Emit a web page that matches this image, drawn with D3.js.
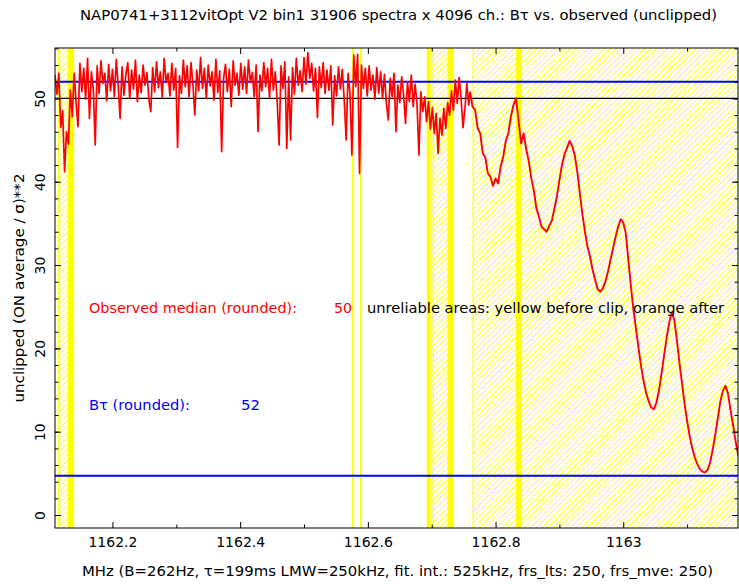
<!DOCTYPE html>
<html><head><meta charset="utf-8">
<script src="https://cdn.jsdelivr.net/npm/d3@7"></script>
<style>body{margin:0;background:#fff}svg{display:block}text{font-family:"DejaVu Sans",sans-serif}</style>
</head><body><svg id="c" width="739" height="584"></svg>
<script>
const title = "NAP0741+3112vitOpt V2 bin1 31906 spectra x 4096 ch.: B\u03c4 vs. observed (unclipped)";
const xLabel = "MHz (B=262Hz, \u03c4=199ms LMW=250kHz, fit. int.: 525kHz, frs_lts: 250, frs_mve: 250)";
const yLabel = "unclipped (ON average / \u03c3)**2";
const xTicks = [1162.2, 1162.4, 1162.6, 1162.8, 1163.0];
const xTickLabels = ["1162.2", "1162.4", "1162.6", "1162.8", "1163"];
const xMinorTicks = [1162.3, 1162.5, 1162.7, 1162.9, 1163.1];
const yTicks = [0, 10, 20, 30, 40, 50];
const yMinorTicks = [0, 2, 4, 6, 8, 10, 12, 14, 16, 18, 20, 22, 24, 26, 28, 30, 32, 34, 36, 38, 40, 42, 44, 46, 48, 50, 52, 54, 56];
const xDomain = [1162.110, 1163.1797];
const yDomain = [-1.56, 56.05];

// observed spectrum, first part (noisy channels)
const noisyStart = 1162.110, noisyStep = 0.003;
const noisyValues = [
 52.8, 50.5, 53.0, 46.5, 48.5, 41.2, 46.0, 44.5, 51.0, 47.8,
 53.0, 49.5, 46.6, 54.2, 50.8, 53.6, 49.9, 54.8, 47.6, 53.2,
 51.2, 44.4, 53.9, 50.6, 54.5, 51.8, 53.0, 49.7, 54.1, 50.9,
 53.5, 50.2, 54.7, 51.5, 47.6, 53.8, 50.4, 52.9, 54.3, 50.0,
 53.4, 51.1, 54.6, 49.6, 52.8, 50.7, 54.0, 51.6, 53.1, 49.9,
 48.4, 53.7, 50.8, 54.4, 51.3, 53.2, 50.1, 54.8, 51.9, 53.0,
 50.3, 54.2, 51.0, 53.6, 44.1, 52.7, 50.6, 54.6, 51.4, 53.9,
 50.2, 54.3, 51.7, 48.0, 53.4, 50.9, 54.9, 51.2, 53.6, 50.0,
 54.0, 51.5, 53.2, 49.8, 54.7, 50.7, 53.3, 43.6, 52.4, 54.1,
 50.8, 53.5, 49.0, 54.5, 51.6, 53.0, 50.4, 54.2, 51.1, 53.8,
 50.6, 54.6, 51.9, 53.1, 50.2, 54.0, 46.0, 52.8, 50.9, 54.3,
 51.4, 53.6, 50.1, 54.7, 51.0, 53.2, 49.6, 44.4, 53.9, 51.2,
 54.4, 44.0, 52.6, 45.0, 53.7, 50.5, 54.8, 51.6, 53.3, 50.8,
 54.9, 51.7, 55.5, 52.4, 54.2, 50.9, 53.6, 47.7, 53.8, 51.3,
 54.3, 50.6, 53.4, 51.0, 53.9, 46.8, 52.7, 50.3, 53.8, 51.1,
 53.5, 49.8, 45.0, 53.0, 50.7, 43.2, 55.2, 51.4, 55.3, 41.0,
 54.0, 51.2, 53.6, 50.3, 53.9, 51.0, 52.8, 49.9, 53.7, 50.6,
 53.2, 50.0, 52.9, 49.4, 47.4, 52.4, 50.2, 53.0, 46.0, 51.6,
 49.5, 52.6, 50.4, 47.0, 52.0, 49.6, 52.8, 49.0, 51.7, 49.3,
 43.2, 50.8, 48.4, 50.2, 47.2, 49.6, 46.3, 48.9, 45.8, 48.2,
 43.4, 47.6, 45.6, 48.8, 46.4, 49.5, 48.0, 50.9, 48.6, 52.2,
 49.4, 52.5, 50.0, 46.5, 48.7, 51.8, 49.2
];
// observed spectrum, second part (oscillating channels)
const smoothStart = 1162.760, smoothStep = 0.004;
const smoothValues = [
 50.8, 49.0, 48.6, 46.4, 45.8, 43.4, 42.9, 41.0, 40.6, 39.5,
 40.4, 39.8, 41.8, 43.0, 44.9, 45.8, 47.8, 49.2, 50.0, 47.4,
 44.6, 45.8, 43.9, 42.5, 40.4, 38.9, 36.8, 35.8, 34.6, 34.3,
 34.0, 34.7, 35.3, 36.7, 38.2, 40.2, 42.0, 43.3, 44.1, 44.9,
 44.3, 43.2, 41.2, 38.6, 36.1, 34.0, 32.2, 31.0, 29.4, 28.2,
 27.1, 26.8, 27.2, 28.0, 29.2, 30.6, 32.0, 33.4, 34.6, 35.5,
 35.1, 33.8, 30.6, 27.4, 24.6, 22.3, 20.0, 17.8, 16.0, 14.6,
 13.6, 12.9, 12.7, 13.5, 15.0, 17.0, 19.2, 21.3, 23.1, 24.3,
 23.4, 21.0, 18.3, 15.8, 13.4, 11.3, 9.5, 8.0, 6.9, 6.1,
 5.5, 5.2, 5.1, 5.4, 6.3, 7.8, 9.6, 11.6, 13.6, 14.9,
 15.5, 14.6, 12.6, 10.8, 8.8, 7.2, 6.5
];
const medianObserved = 50;
const bTauValue = 52;
const lowerLevel = 4.7;
const solidBands = [[1162.130, 1162.140], [1162.5753, 1162.5784], [1162.5878, 1162.5909],
  [1162.6922, 1162.6985], [1162.7245, 1162.7339], [1162.8320, 1162.8409]];
const hatchBands = [[1162.115, 1162.1306], [1162.7016, 1162.7245], [1162.7642, 1163.25]];

const svg = d3.select("#c");
const L = 55, R = 738, T = 48, B = 528;
const x = d3.scaleLinear().domain(xDomain).range([L, R]);
const y = d3.scaleLinear().domain(yDomain).range([B, T]);

const defs = svg.append("defs");
defs.append("clipPath").attr("id", "clip").append("rect")
  .attr("x", L).attr("y", T).attr("width", R - L).attr("height", B - T);

const plot = svg.append("g").attr("clip-path", "url(#clip)");

// hatched bands: explicit diagonal lines clipped to each band
const hs = 5.7, H = B - T;
hatchBands.forEach((d, i) => {
  const x0 = x(d[0]), x1 = Math.min(x(d[1]), R + 2);
  defs.append("clipPath").attr("id", "hc" + i).append("rect")
    .attr("x", x0).attr("y", T).attr("width", x1 - x0).attr("height", H);
  const g = plot.append("g").attr("clip-path", `url(#hc${i})`);
  const starts = d3.range(Math.floor((x0 - H) / hs), Math.ceil(x1 / hs) + 1).map(k => k * hs);
  g.selectAll("line").data(starts).join("line")
    .attr("x1", c => c).attr("y1", B).attr("x2", c => c + H).attr("y2", T)
    .attr("stroke", "#ffff00").attr("stroke-width", 1);
  plot.append("line").attr("x1", x0 + 0.5).attr("x2", x0 + 0.5).attr("y1", T).attr("y2", B)
    .attr("stroke", "#ffff00").attr("stroke-width", 1.2);
});
plot.selectAll("rect.solid").data(solidBands).join("rect").attr("class", "solid")
  .attr("x", d => x(d[0])).attr("y", T).attr("width", d => Math.max(1.5, x(d[1]) - x(d[0]))).attr("height", H)
  .attr("fill", "#ffff00");

const hl = [
  {v: bTauValue, c: "#0000ff", w: 2},
  {v: medianObserved, c: "#000000", w: 1.3},
  {v: lowerLevel, c: "#0000ff", w: 2}
];
plot.selectAll("line.h").data(hl).join("line").attr("class", "h")
  .attr("x1", L).attr("x2", R).attr("y1", d => y(d.v)).attr("y2", d => y(d.v))
  .attr("stroke", d => d.c).attr("stroke-width", d => d.w);

const line = d3.line().x(d => x(d[0])).y(d => y(d[1]));
const p1 = noisyValues.map((v, i) => [noisyStart + i * noisyStep, v]);
const p2 = smoothValues.map((v, i) => [smoothStart + i * smoothStep, v]);
plot.append("path").datum(p1.concat([p2[0]])).attr("d", line)
  .attr("fill", "none").attr("stroke", "#ff0000").attr("stroke-width", 1.7).attr("stroke-linejoin", "round");
plot.append("path").datum(p2).attr("d", line)
  .attr("fill", "none").attr("stroke", "#ff0000").attr("stroke-width", 1.9).attr("stroke-linejoin", "round");

// axes
const fmt = d3.scaleOrdinal().domain(xTicks).range(xTickLabels);
const ax = svg.append("g").attr("transform", `translate(0,${B})`)
  .call(d3.axisBottom(x).tickValues(xTicks).tickSize(-6).tickPadding(9).tickFormat(d => fmt(d)));
svg.append("g").attr("transform", `translate(0,${B})`)
  .call(d3.axisBottom(x).tickValues(xMinorTicks).tickSize(-3.5).tickFormat(""));
svg.append("g").attr("transform", `translate(0,${T})`)
  .call(d3.axisTop(x).tickValues(xTicks).tickSize(-6).tickFormat(""));
svg.append("g").attr("transform", `translate(0,${T})`)
  .call(d3.axisTop(x).tickValues(xMinorTicks).tickSize(-3.5).tickFormat(""));
const ay = svg.append("g").attr("transform", `translate(${L},0)`)
  .call(d3.axisLeft(y).tickValues(yTicks).tickSize(-6).tickFormat(d3.format("d")));
svg.append("g").attr("transform", `translate(${L},0)`)
  .call(d3.axisLeft(y).tickValues(yMinorTicks).tickSize(-3.5).tickFormat(""));
svg.append("g").attr("transform", `translate(${R},0)`)
  .call(d3.axisRight(y).tickValues(yTicks).tickSize(-6).tickFormat(""));
svg.append("g").attr("transform", `translate(${R},0)`)
  .call(d3.axisRight(y).tickValues(yMinorTicks).tickSize(-3.5).tickFormat(""));
svg.selectAll(".domain").remove();
svg.selectAll(".tick line").attr("stroke", "#000");
ax.selectAll("text").attr("font-size", 14).attr("fill", "#000").attr("font-family", "DejaVu Sans");
ay.selectAll("text").attr("font-size", 14).attr("fill", "#000").attr("font-family", "DejaVu Sans")
  .attr("transform", "rotate(-90)").attr("x", 0).attr("y", -10).attr("dy", 0).attr("text-anchor", "middle");

svg.append("rect").attr("x", L).attr("y", T).attr("width", R - L).attr("height", B - T)
  .attr("fill", "none").attr("stroke", "#000").attr("stroke-width", 1);

// texts
const t = (s, xx, yy, col, len) => {
  const e = svg.append("text").attr("x", xx).attr("y", yy).attr("fill", col).attr("font-size", 14).text(s);
  if (len) e.attr("textLength", len).attr("lengthAdjust", "spacingAndGlyphs");
  return e;
};
t(title, 80, 20, "#000", 637);
t(xLabel, 82, 576, "#000", 631);
t("Observed median (rounded):", 89, 313, "#ff0000", 208);
t(String(medianObserved), 334, 313, "#ff0000", 18);
t("unreliable areas: yellow before clip, orange after", 367, 313, "#000", 357);
t("B\u03c4 (rounded):", 89, 410, "#0000ff", 101);
t(String(bTauValue), 241, 410, "#0000ff", 19);
svg.append("text").attr("transform", "translate(24,288) rotate(-90)").attr("text-anchor", "middle")
  .attr("font-size", 14).attr("fill", "#000").attr("textLength", 229).attr("lengthAdjust", "spacingAndGlyphs").text(yLabel);
</script></body></html>
